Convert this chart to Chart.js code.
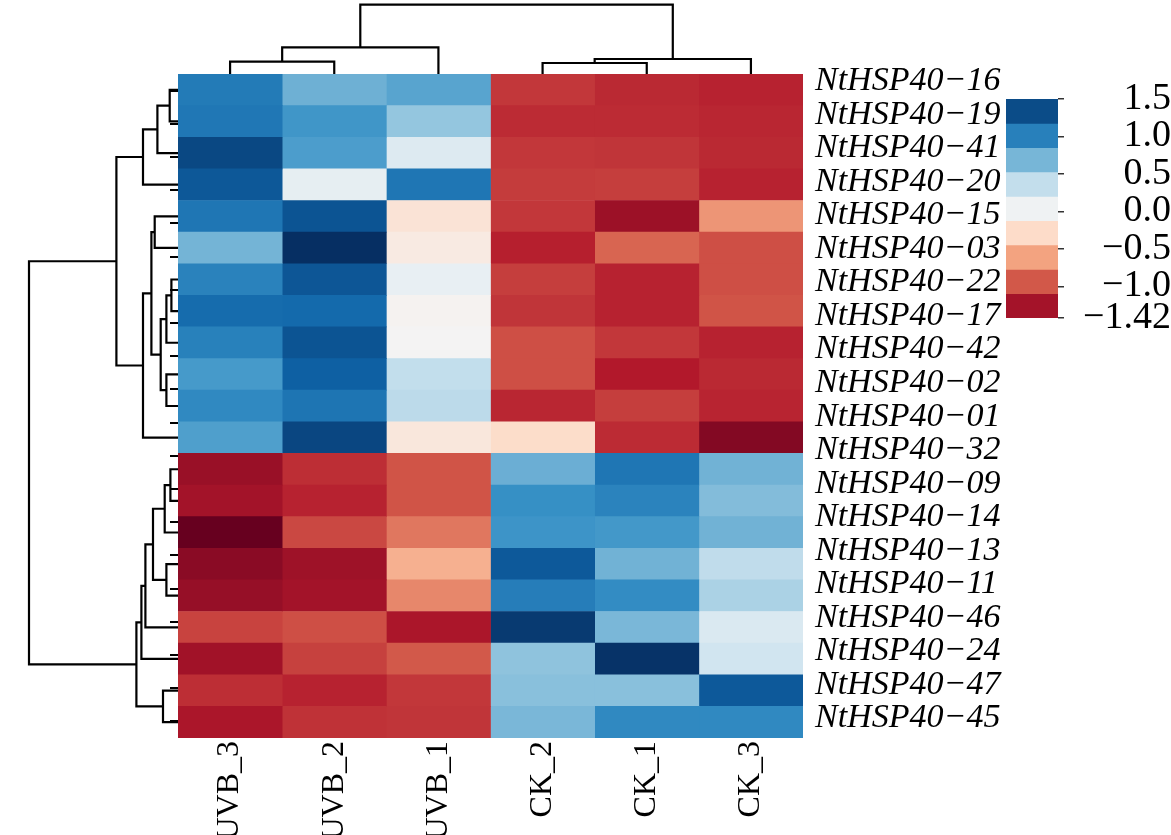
<!DOCTYPE html>
<html>
<head>
<meta charset="utf-8">
<title>NtHSP40 clustered heatmap</title>
<script src="https://cdn.jsdelivr.net/npm/chart.js@4.4.0/dist/chart.umd.min.js"></script>
<style>
  html, body { margin: 0; padding: 0; background: #fff; }
  body { width: 1171px; height: 835px; position: relative; overflow: hidden; }
  .box { position: absolute; }
</style>
</head>
<body>
<div class="box" style="left:0;top:74px;width:178px;height:664px"><canvas id="rowTree"></canvas></div>
<div class="box" style="left:178px;top:0;width:625px;height:74px"><canvas id="colTree"></canvas></div>
<div class="box" style="left:140px;top:34px;width:863px;height:801px"><canvas id="heat"></canvas></div>
<div class="box" style="left:1006px;top:59px;width:165px;height:299px"><canvas id="scale"></canvas></div>
<script>
// samples, in dendrogram order
var columns = ['UVB_3', 'UVB_2', 'UVB_1', 'CK_2', 'CK_1', 'CK_3'];

// gene labels shown on the right
var rowLabels = ['NtHSP40-16', 'NtHSP40-19', 'NtHSP40-41', 'NtHSP40-20', 'NtHSP40-15',
  'NtHSP40-03', 'NtHSP40-22', 'NtHSP40-17', 'NtHSP40-42', 'NtHSP40-02', 'NtHSP40-01',
  'NtHSP40-32', 'NtHSP40-09', 'NtHSP40-14', 'NtHSP40-13', 'NtHSP40-11', 'NtHSP40-46',
  'NtHSP40-24', 'NtHSP40-47', 'NtHSP40-45'];

// scaled expression, one array per sample, rows top to bottom
var uvb3 = [1.05, 1.07, 1.36, 1.27, 1.08, 0.70, 1.00, 1.15, 1.01, 0.85, 0.95, 0.82, -1.30, -1.26, -1.60, -1.36, -1.31, -1.02, -1.27, -1.11, -1.23];
var uvb2 = [0.72, 0.87, 0.83, 0.12, 1.29, 1.55, 1.28, 1.16, 1.29, 1.22, 1.09, 1.37, -1.11, -1.16, -1.00, -1.28, -1.26, -0.97, -1.03, -1.16, -1.09];
var uvb1 = [0.79, 0.59, 0.20, 1.08, -0.20, -0.12, 0.10, -0.03, -0.01, 0.37, 0.40, -0.16, -0.95, -0.95, -0.80, -0.54, -0.73, -1.23, -0.93, -1.07, -1.08];
var ck2 = [-1.07, -1.12, -1.07, -1.05, -1.07, -1.17, -1.04, -1.08, -0.97, -0.97, -1.14, -0.28, 0.73, 0.91, 0.88, 1.26, 1.03, 1.44, 0.61, 0.63, 0.68];
var ck1 = [-1.13, -1.12, -1.08, -1.04, -1.29, -0.88, -1.16, -1.16, -1.07, -1.20, -1.04, -1.12, 1.08, 0.99, 0.86, 0.71, 0.93, 0.68, 1.48, 0.63, 0.95];
var ck3 = [-1.16, -1.14, -1.13, -1.16, -0.67, -0.97, -0.97, -0.95, -1.16, -1.13, -1.15, -1.39, 0.71, 0.65, 0.71, 0.38, 0.48, 0.22, 0.30, 1.26, 0.95];

// linkage: [child a, child b, height]; leaves are 0..n-1, new nodes follow
var rowLinkage = [
  [0, 1, 0.83], [21, 2, 2.06], [22, 3, 3.50], [4, 5, 2.33], [6, 7, 0.66],
  [25, 8, 1.16], [9, 10, 1.16], [26, 27, 1.73], [24, 28, 2.66], [29, 11, 3.50],
  [23, 30, 6.16], [12, 13, 0.76], [32, 14, 1.33], [15, 16, 1.16], [33, 34, 2.50],
  [35, 17, 3.26], [36, 18, 3.66], [19, 20, 1.50], [37, 38, 4.16], [31, 39, 14.90]
];
var colLinkage = [[0, 1, 1.23], [6, 2, 2.67], [3, 4, 1.10], [8, 5, 1.50], [7, 9, 6.93]];

// colour bar
var scaleMin = -1.42, scaleMax = 1.5, scaleBins = 9;
var scaleTicks = [1.5, 1.0, 0.5, 0.0, -0.5, -1.0, -1.42];

// RdBu-like palette, blue end a little more saturated like the print
var PALETTE = ['#67001f', '#b2182b', '#d6604d', '#f4a582', '#fddbc7', '#f4f4f4',
  '#d1e5f0', '#92c5de', '#3791c6', '#0f64a8', '#062f63'];
var VMIN = -1.5, VMAX = 1.5;

function hexRgb(h) {
  return [parseInt(h.substr(1, 2), 16), parseInt(h.substr(3, 2), 16), parseInt(h.substr(5, 2), 16)];
}
function heatColor(v) {
  var t = (v - VMIN) / (VMAX - VMIN);
  t = Math.max(0, Math.min(1, t));
  var p = t * 10;
  var i = Math.min(9, Math.floor(p));
  var f = p - i;
  var a = hexRgb(PALETTE[i]), b = hexRgb(PALETTE[i + 1]);
  var c = a.map(function(x, k) { return Math.round(x + (b[k] - x) * f); });
  return 'rgb(' + c.join(',') + ')';
}
function minus(s) { return String(s).replace('-', '\u2212'); }

function dendro(linkage, n) {
  var pos = [], hgt = [];
  for (var i = 0; i < n; i++) { pos[i] = i + 0.5; hgt[i] = 0; }
  return linkage.map(function(l, k) {
    var a = l[0], b = l[1], h = l[2], id = n + k;
    pos[id] = (pos[a] + pos[b]) / 2;
    hgt[id] = h;
    return [[pos[a], hgt[a]], [pos[a], h], [pos[b], h], [pos[b], hgt[b]]];
  });
}

Chart.defaults.animation = false;
Chart.defaults.plugins.legend.display = false;
Chart.defaults.plugins.tooltip.enabled = false;
Chart.defaults.color = '#000';

var serif = '"Liberation Serif", "Times New Roman", serif';
var lineStyle = { borderColor: '#000', borderWidth: 2.2, pointRadius: 0, showLine: true, tension: 0, fill: false };

// row dendrogram (left)
new Chart('rowTree', {
  type: 'scatter',
  data: {
    datasets: dendro(rowLinkage, uvb3.length).map(function(seg) {
      return Object.assign({ data: seg.map(function(p) { return { x: p[1], y: p[0] }; }) }, lineStyle);
    })
  },
  options: {
    responsive: true, maintainAspectRatio: false,
    layout: { padding: 0 },
    scales: {
      x: { type: 'linear', min: 0, max: 17.8, reverse: true, display: false },
      y: { type: 'linear', min: 0, max: uvb3.length, reverse: true, display: false }
    }
  }
});

// column dendrogram (top)
new Chart('colTree', {
  type: 'scatter',
  data: {
    datasets: dendro(colLinkage, columns.length).map(function(seg) {
      return Object.assign({ data: seg.map(function(p) { return { x: p[0], y: p[1] }; }) }, lineStyle);
    })
  },
  options: {
    responsive: true, maintainAspectRatio: false,
    layout: { padding: 0 },
    scales: {
      x: { type: 'linear', min: 0, max: columns.length, display: false },
      y: { type: 'linear', min: 0, max: 7.4, display: false }
    }
  }
});

// heatmap
var series = [uvb3, uvb2, uvb1, ck2, ck1, ck3];
new Chart('heat', {
  type: 'bar',
  data: {
    labels: columns,
    datasets: series.map(function(vals, j) {
      return {
        data: vals.map(function(v, r) { return { x: columns[j], y: [r, r + 1] }; }),
        backgroundColor: vals.map(heatColor),
        borderWidth: 0,
        grouped: false,
        barPercentage: 1,
        categoryPercentage: 1,
        xAxisID: 'x',
        yAxisID: 'y'
      };
    })
  },
  options: {
    responsive: true, maintainAspectRatio: false,
    layout: { padding: { left: 30, top: 40, right: 0, bottom: 0 } },
    scales: {
      x: {
        type: 'category', offset: true,
        grid: { display: false, drawTicks: false },
        border: { display: false },
        ticks: { autoSkip: false, minRotation: 90, maxRotation: 90, padding: 3,
          font: { family: serif, size: 32 } },
        afterFit: function(s) { s.height = 97; }
      },
      y: { type: 'linear', min: 0, max: uvb3.length, reverse: true, display: false },
      yl: {
        type: 'linear', position: 'left', min: 0, max: rowLabels.length, reverse: true,
        grid: { display: true, drawOnChartArea: false, drawTicks: true, tickLength: 8, color: '#000', lineWidth: 2 },
        border: { display: false },
        ticks: { display: false, autoSkip: false },
        afterBuildTicks: function(s) { s.ticks = rowLabels.map(function(l, i) { return { value: i + 0.5 }; }); },
        afterFit: function(s) { s.width = 8; }
      },
      yr: {
        type: 'linear', position: 'right', min: 0.29, max: 20.08, reverse: true,
        grid: { display: false, drawTicks: false },
        border: { display: false },
        ticks: {
          autoSkip: false,
          padding: 12,
          font: { family: serif, size: 34, style: 'italic' },
          callback: function(v, i) { return minus(rowLabels[i]); }
        },
        afterBuildTicks: function(s) { s.ticks = rowLabels.map(function(l, i) { return { value: i + 0.5 }; }); },
        afterFit: function(s) { s.width = 200; }
      }
    }
  }
});

// colour bar
var step = (scaleMax - scaleMin) / scaleBins;
var bins = [];
for (var b = 0; b < scaleBins; b++) { bins.push([scaleMin + b * step, scaleMin + (b + 1) * step]); }
new Chart('scale', {
  type: 'bar',
  data: {
    labels: ['scale'],
    datasets: [{
      data: bins.map(function(r) { return { x: 'scale', y: r }; }),
      backgroundColor: bins.map(function(r) { return heatColor((r[0] + r[1]) / 2); }),
      borderWidth: 0,
      grouped: false,
      barPercentage: 1,
      categoryPercentage: 1
    }]
  },
  options: {
    responsive: true, maintainAspectRatio: false,
    layout: { padding: { left: 0, top: 40, right: 0, bottom: 40 } },
    scales: {
      x: { display: false, offset: true },
      y: {
        type: 'linear', position: 'right', min: scaleMin, max: scaleMax,
        grid: { display: true, drawOnChartArea: false, drawTicks: true, tickLength: 6, color: '#333', lineWidth: 1.5 },
        border: { display: false },
        ticks: {
          autoSkip: false,
          padding: 2, crossAlign: 'far',
          font: { family: serif, size: 38 },
          callback: function(v) { return minus(v === -1.42 ? '-1.42' : v.toFixed(1)); }
        },
        afterBuildTicks: function(s) { s.ticks = scaleTicks.map(function(v) { return { value: v }; }); },
        afterFit: function(s) { s.width = 113; }
      }
    }
  }
});
</script>
</body>
</html>
